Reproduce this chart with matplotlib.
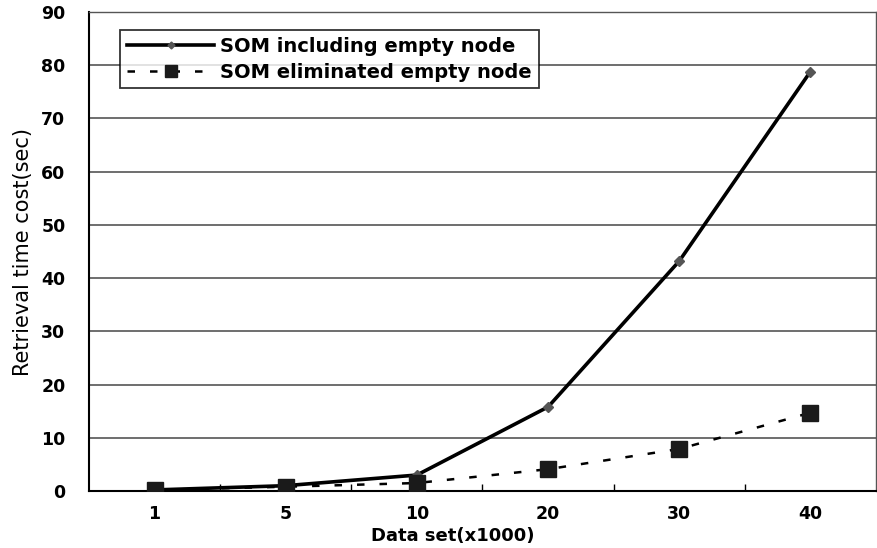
import matplotlib
matplotlib.use("Agg")
import matplotlib.pyplot as plt
from matplotlib import font_manager

categories = ["1", "5", "10", "20", "30", "40"]
som_including = [0.2, 1.0, 3.0, 15.8, 43.2, 78.8]
som_eliminated = [0.2, 0.8, 1.5, 4.1, 7.9, 14.7]
series_labels = ["SOM including empty node", "SOM eliminated empty node"]
yticks = [0, 10, 20, 30, 40, 50, 60, 70, 80, 90]

names = {f.name for f in font_manager.fontManager.ttflist}
narrow = "Liberation Sans Narrow" if "Liberation Sans Narrow" in names else "DejaVu Sans"

fig = plt.figure(figsize=(8.77, 5.48), dpi=100)
ax = fig.add_axes([89/877, 57/548, 787/877, 479/548])

x = list(range(len(categories)))
ax.plot(x, som_including, color="black", lw=2.6, marker="D", ms=5,
        mfc="#555555", mec="#555555", label=series_labels[0], zorder=3)
ax.plot(x, som_eliminated, color="black", lw=1.8, ls=(0, (3, 6)), marker="s", ms=12,
        mfc="#1a1a1a", mec="#1a1a1a", label=series_labels[1], zorder=3)

ax.set_xlim(-0.5, len(categories) - 0.5)
ax.set_ylim(0, 90)
ax.set_yticks(yticks)
ax.set_xticks(x)
ax.set_xticklabels(categories)
ax.set_xticks([i + 0.5 for i in range(len(categories) - 1)], minor=True)
ax.tick_params(axis="x", which="major", length=0, pad=10)
ax.tick_params(axis="x", which="minor", direction="in", length=5, width=1)
ax.tick_params(axis="y", length=0, pad=17)
for lab in ax.get_xticklabels() + ax.get_yticklabels():
    lab.set_fontweight("bold")
    lab.set_fontsize(12.5)

ax.yaxis.grid(True, color="#555555", lw=1.2)
ax.set_axisbelow(True)
for s in ["left", "bottom"]:
    ax.spines[s].set_linewidth(1.5)
    ax.spines[s].set_color("black")
for s in ["top", "right"]:
    ax.spines[s].set_linewidth(1.0)
    ax.spines[s].set_color("#555555")

ax.set_xlabel("Data set(x1000)", fontsize=13, fontweight="bold", va="center")
ax.xaxis.set_label_coords(0.5 - 30/787, -45/479)
ax.set_ylabel("Retrieval time cost(sec)", fontsize=15, family=narrow, labelpad=6)

leg = ax.legend(loc="upper left", bbox_to_anchor=(120/877, 1 - 30/548),
                bbox_transform=fig.transFigure, frameon=True, fancybox=False,
                edgecolor="black", borderpad=0.35, borderaxespad=0, handlelength=4.5,
                prop={"weight": "bold", "size": 14}, labelspacing=0.35,
                markerscale=0.7, handletextpad=0.3)
leg.get_frame().set_linewidth(1.3)

fig.savefig("out.png", dpi=100)
